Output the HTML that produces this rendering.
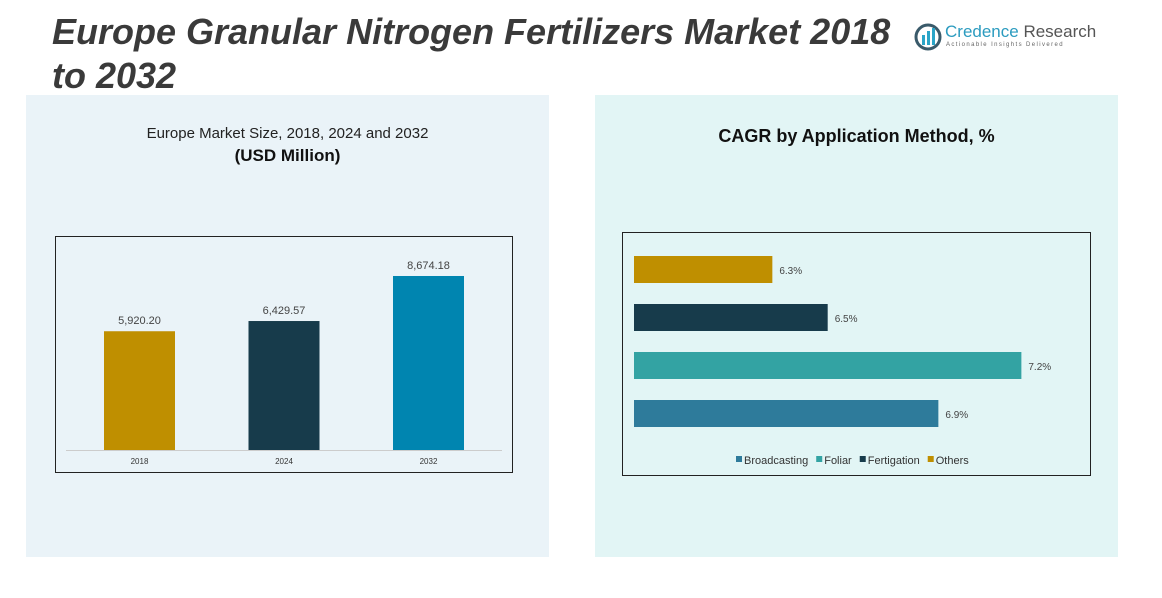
<!DOCTYPE html>
<html><head><meta charset="utf-8"><style>
body{margin:0;width:1162px;height:598px;background:#fff;position:relative;overflow:hidden;font-family:"Liberation Sans",sans-serif}
.abs{position:absolute}
</style></head><body>
<div class="abs" style="left:52px;top:10px;font-size:36px;font-weight:bold;font-style:italic;color:#3a3a3a;line-height:44px;width:870px">Europe Granular Nitrogen Fertilizers Market 2018 to 2032</div>
<div class="abs" style="left:914px;top:22px;width:180px;height:34px">
<svg width="28" height="28" style="position:absolute;left:0;top:1px"><circle cx="14" cy="14" r="12" fill="none" stroke="#3a5a6a" stroke-width="3"/><rect x="8" y="12" width="3" height="10" fill="#2aa5c8"/><rect x="13" y="8" width="3" height="14" fill="#2aa5c8"/><rect x="18" y="5" width="3" height="17" fill="#2aa5c8"/></svg>
<div style="position:absolute;left:31px;top:0;font-size:17px;color:#2b9bbf;white-space:nowrap">Credence <span style="color:#555">Research</span></div>
<div style="position:absolute;left:32px;top:20px;font-size:6px;letter-spacing:1.4px;color:#666;white-space:nowrap">Actionable Insights Delivered</div>
</div>
<div class="abs" style="left:26px;top:95px;width:523px;height:462px;background:#eaf3f8"></div>
<div class="abs" style="left:595px;top:95px;width:523px;height:462px;background:#e2f5f5"></div>
<div class="abs" style="left:26px;top:125px;width:523px;text-align:center;font-size:15px;color:#222">Europe Market Size, 2018, 2024 and 2032</div>
<div class="abs" style="left:26px;top:146px;width:523px;text-align:center;font-size:17px;font-weight:bold;color:#111">(USD Million)</div>
<div class="abs" style="left:595px;top:126px;width:523px;text-align:center;font-size:18px;font-weight:bold;color:#111">CAGR by Application Method, %</div>
<svg id="bar" class="abs" style="left:0;top:0" width="1162" height="598"></svg>
<script>
const years=["2018","2024","2032"];
const sizes=[5920.20,6429.57,8674.18];
const sizeLabels=["5,920.20","6,429.57","8,674.18"];
const yearColors=["#bf8f00","#173b4b","#0085b0"];
const methods=["Others","Fertigation","Foliar","Broadcasting"];
const cagr=[6.3,6.5,7.2,6.9];
const methodColors=["#bf8f00","#173b4b","#33a3a3","#2e7b9b"];
const legendOrder=["Broadcasting","Foliar","Fertigation","Others"];
const legendColors=["#2e7b9b","#33a3a3","#173b4b","#bf8f00"];
const NS="http://www.w3.org/2000/svg",svg=document.getElementById('bar');
function mk(t,a,txt){const e=document.createElementNS(NS,t);for(const k in a)e.setAttribute(k,a[k]);if(txt!=null)e.textContent=txt;svg.appendChild(e);return e;}
let e=mk('rect',{x:55.5,y:236.5,width:457,height:236,fill:'none',stroke:'#222'});

e=mk('line',{x1:66,x2:502,y1:450.5,y2:450.5,stroke:'#ccc'});

const yv=v=>450-v*0.02006;
years.forEach((y,i)=>{const cx=139.5+i*144.5;
let r=mk('rect',{x:cx-35.5,y:yv(sizes[i]),width:71,height:450-yv(sizes[i]),fill:yearColors[i]});

let t=mk('text',{x:cx,y:yv(sizes[i])-7,'text-anchor':'middle','font-size':11,fill:'#444'},sizeLabels[i]);

t=mk('text',{x:cx,y:464,'text-anchor':'middle','font-size':8,fill:'#333'},y);
});
e=mk('rect',{x:622.5,y:232.5,width:468,height:243,fill:'none',stroke:'#222'});

const xv=v=>634+(v-5.8)*276.7;
methods.forEach((m,i)=>{const y=256+i*48;
let r=mk('rect',{x:634,y:y,width:xv(cagr[i])-634,height:27,fill:methodColors[i]});

let t=mk('text',{x:xv(cagr[i])+7,y:y+18,'font-size':10,fill:'#444'},cagr[i].toFixed(1)+'%');
});
let lx=736;
legendOrder.forEach((m,i)=>{
let r=mk('rect',{x:lx,y:456,width:6,height:6,fill:legendColors[i]});

let t=mk('text',{x:lx+8,y:464,'font-size':11,fill:'#333'},m);

lx+=8+t.getComputedTextLength()+8;});
</script>
</body></html>
